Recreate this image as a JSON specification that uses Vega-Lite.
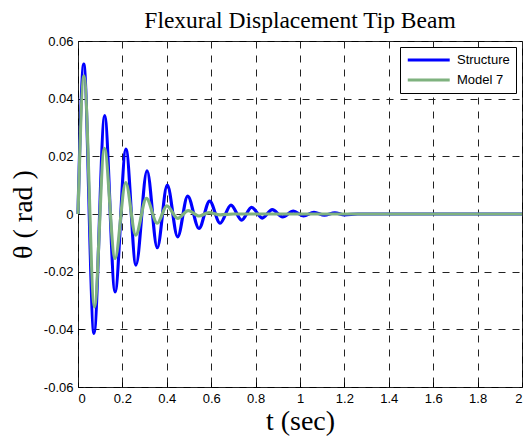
{
  "$schema": "https://vega.github.io/schema/vega-lite/v6.json",
  "width": 444,
  "height": 346,
  "autosize": {"type": "none"},
  "padding": {"left": 78, "top": 41, "right": 6, "bottom": 54},
  "background": "white",
  "title": {
    "text": "Flexural Displacement Tip Beam",
    "font": "Liberation Serif",
    "fontSize": 23.5,
    "fontWeight": "normal",
    "color": "black",
    "baseline": "alphabetic",
    "offset": 12,
    "dy": 28
  },
  "data": {
    "values": [
      {"t": 0, "v": 0, "s": "Structure"},
      {"t": 0.026, "v": 0.052, "s": "Structure"},
      {"t": 0.072, "v": -0.0414, "s": "Structure"},
      {"t": 0.12, "v": 0.0341, "s": "Structure"},
      {"t": 0.167, "v": -0.027, "s": "Structure"},
      {"t": 0.216, "v": 0.0225, "s": "Structure"},
      {"t": 0.261, "v": -0.0177, "s": "Structure"},
      {"t": 0.311, "v": 0.015, "s": "Structure"},
      {"t": 0.357, "v": -0.0117, "s": "Structure"},
      {"t": 0.402, "v": 0.01, "s": "Structure"},
      {"t": 0.449, "v": -0.0079, "s": "Structure"},
      {"t": 0.494, "v": 0.0062, "s": "Structure"},
      {"t": 0.545, "v": -0.005, "s": "Structure"},
      {"t": 0.593, "v": 0.0045, "s": "Structure"},
      {"t": 0.64, "v": -0.0032, "s": "Structure"},
      {"t": 0.689, "v": 0.0031, "s": "Structure"},
      {"t": 0.737, "v": -0.0021, "s": "Structure"},
      {"t": 0.782, "v": 0.0023, "s": "Structure"},
      {"t": 0.83, "v": -0.0014, "s": "Structure"},
      {"t": 0.875, "v": 0.0015, "s": "Structure"},
      {"t": 0.922, "v": -0.001, "s": "Structure"},
      {"t": 0.97, "v": 0.001, "s": "Structure"},
      {"t": 1.016, "v": -0.0007, "s": "Structure"},
      {"t": 1.063, "v": 0.0006, "s": "Structure"},
      {"t": 1.11, "v": -0.0004, "s": "Structure"},
      {"t": 1.157, "v": 0.0004, "s": "Structure"},
      {"t": 1.2, "v": -0.0003, "s": "Structure"},
      {"t": 1.26, "v": 0, "s": "Structure"},
      {"t": 2, "v": 0, "s": "Structure"},
      {"t": 0, "v": 0, "s": "Model 7"},
      {"t": 0.027, "v": 0.0479, "s": "Model 7"},
      {"t": 0.074, "v": -0.0322, "s": "Model 7"},
      {"t": 0.119, "v": 0.0228, "s": "Model 7"},
      {"t": 0.167, "v": -0.0154, "s": "Model 7"},
      {"t": 0.215, "v": 0.0109, "s": "Model 7"},
      {"t": 0.26, "v": -0.0073, "s": "Model 7"},
      {"t": 0.308, "v": 0.0054, "s": "Model 7"},
      {"t": 0.357, "v": -0.0032, "s": "Model 7"},
      {"t": 0.4, "v": 0.0028, "s": "Model 7"},
      {"t": 0.449, "v": -0.0015, "s": "Model 7"},
      {"t": 0.497, "v": 0.0012, "s": "Model 7"},
      {"t": 0.545, "v": -0.0007, "s": "Model 7"},
      {"t": 0.59, "v": 0.0005, "s": "Model 7"},
      {"t": 0.64, "v": -0.0003, "s": "Model 7"},
      {"t": 0.7, "v": 0, "s": "Model 7"},
      {"t": 2, "v": 0, "s": "Model 7"}
    ]
  },
  "encoding": {
    "x": {
      "field": "t",
      "type": "quantitative",
      "scale": {"domain": [0, 2], "nice": false},
      "axis": {
        "title": "t (sec)",
        "values": [0, 0.2, 0.4, 0.6, 0.8, 1, 1.2, 1.4, 1.6, 1.8, 2],
        "labelExpr": "'' + datum.value"
      }
    },
    "y": {
      "field": "v",
      "type": "quantitative",
      "scale": {"domain": [-0.06, 0.06], "nice": false},
      "axis": {
        "title": "θ ( rad )",
        "values": [-0.06, -0.04, -0.02, 0, 0.02, 0.04, 0.06],
        "labelExpr": "'' + datum.value"
      }
    },
    "color": {
      "field": "s",
      "type": "nominal",
      "scale": {"domain": ["Structure", "Model 7"], "range": ["#0000ff", "#7fb27f"]},
      "legend": {
        "title": null,
        "orient": "top-right",
        "offset": 6,
        "symbolType": "M-1,0H7",
        "symbolSize": 110,
        "symbolStrokeWidth": 3,
        "labelFont": "Liberation Sans",
        "labelFontSize": 13,
        "labelColor": "black",
        "strokeColor": "black",
        "fillColor": "white",
        "padding": 6,
        "rowPadding": 6,
        "labelOffset": 37
      }
    }
  },
  "layer": [
    {
      "transform": [{"filter": "datum.s == 'Structure'"}],
      "mark": {"type": "line", "interpolate": "monotone", "strokeWidth": 3.2, "strokeJoin": "round"}
    },
    {
      "transform": [{"filter": "datum.s == 'Model 7'"}],
      "mark": {"type": "line", "interpolate": "monotone", "strokeWidth": 3.2, "strokeJoin": "round"}
    }
  ],
  "config": {
    "view": {"stroke": "black", "strokeWidth": 1},
    "axis": {
      "grid": true,
      "gridColor": "#222222",
      "gridDash": [7, 7],
      "gridOpacity": 1,
      "gridWidth": 1,
      "domain": false,
      "ticks": true,
      "tickSize": -5,
      "tickColor": "black",
      "labelFont": "Liberation Sans",
      "labelFontSize": 13,
      "labelColor": "black",
      "labelPadding": 10,
      "titleFont": "Liberation Serif",
      "titleFontSize": 28,
      "titleFontWeight": "normal",
      "titleColor": "black"
    },
    "axisX": {"titlePadding": 2},
    "axisY": {"titlePadding": 6}
  }
}
